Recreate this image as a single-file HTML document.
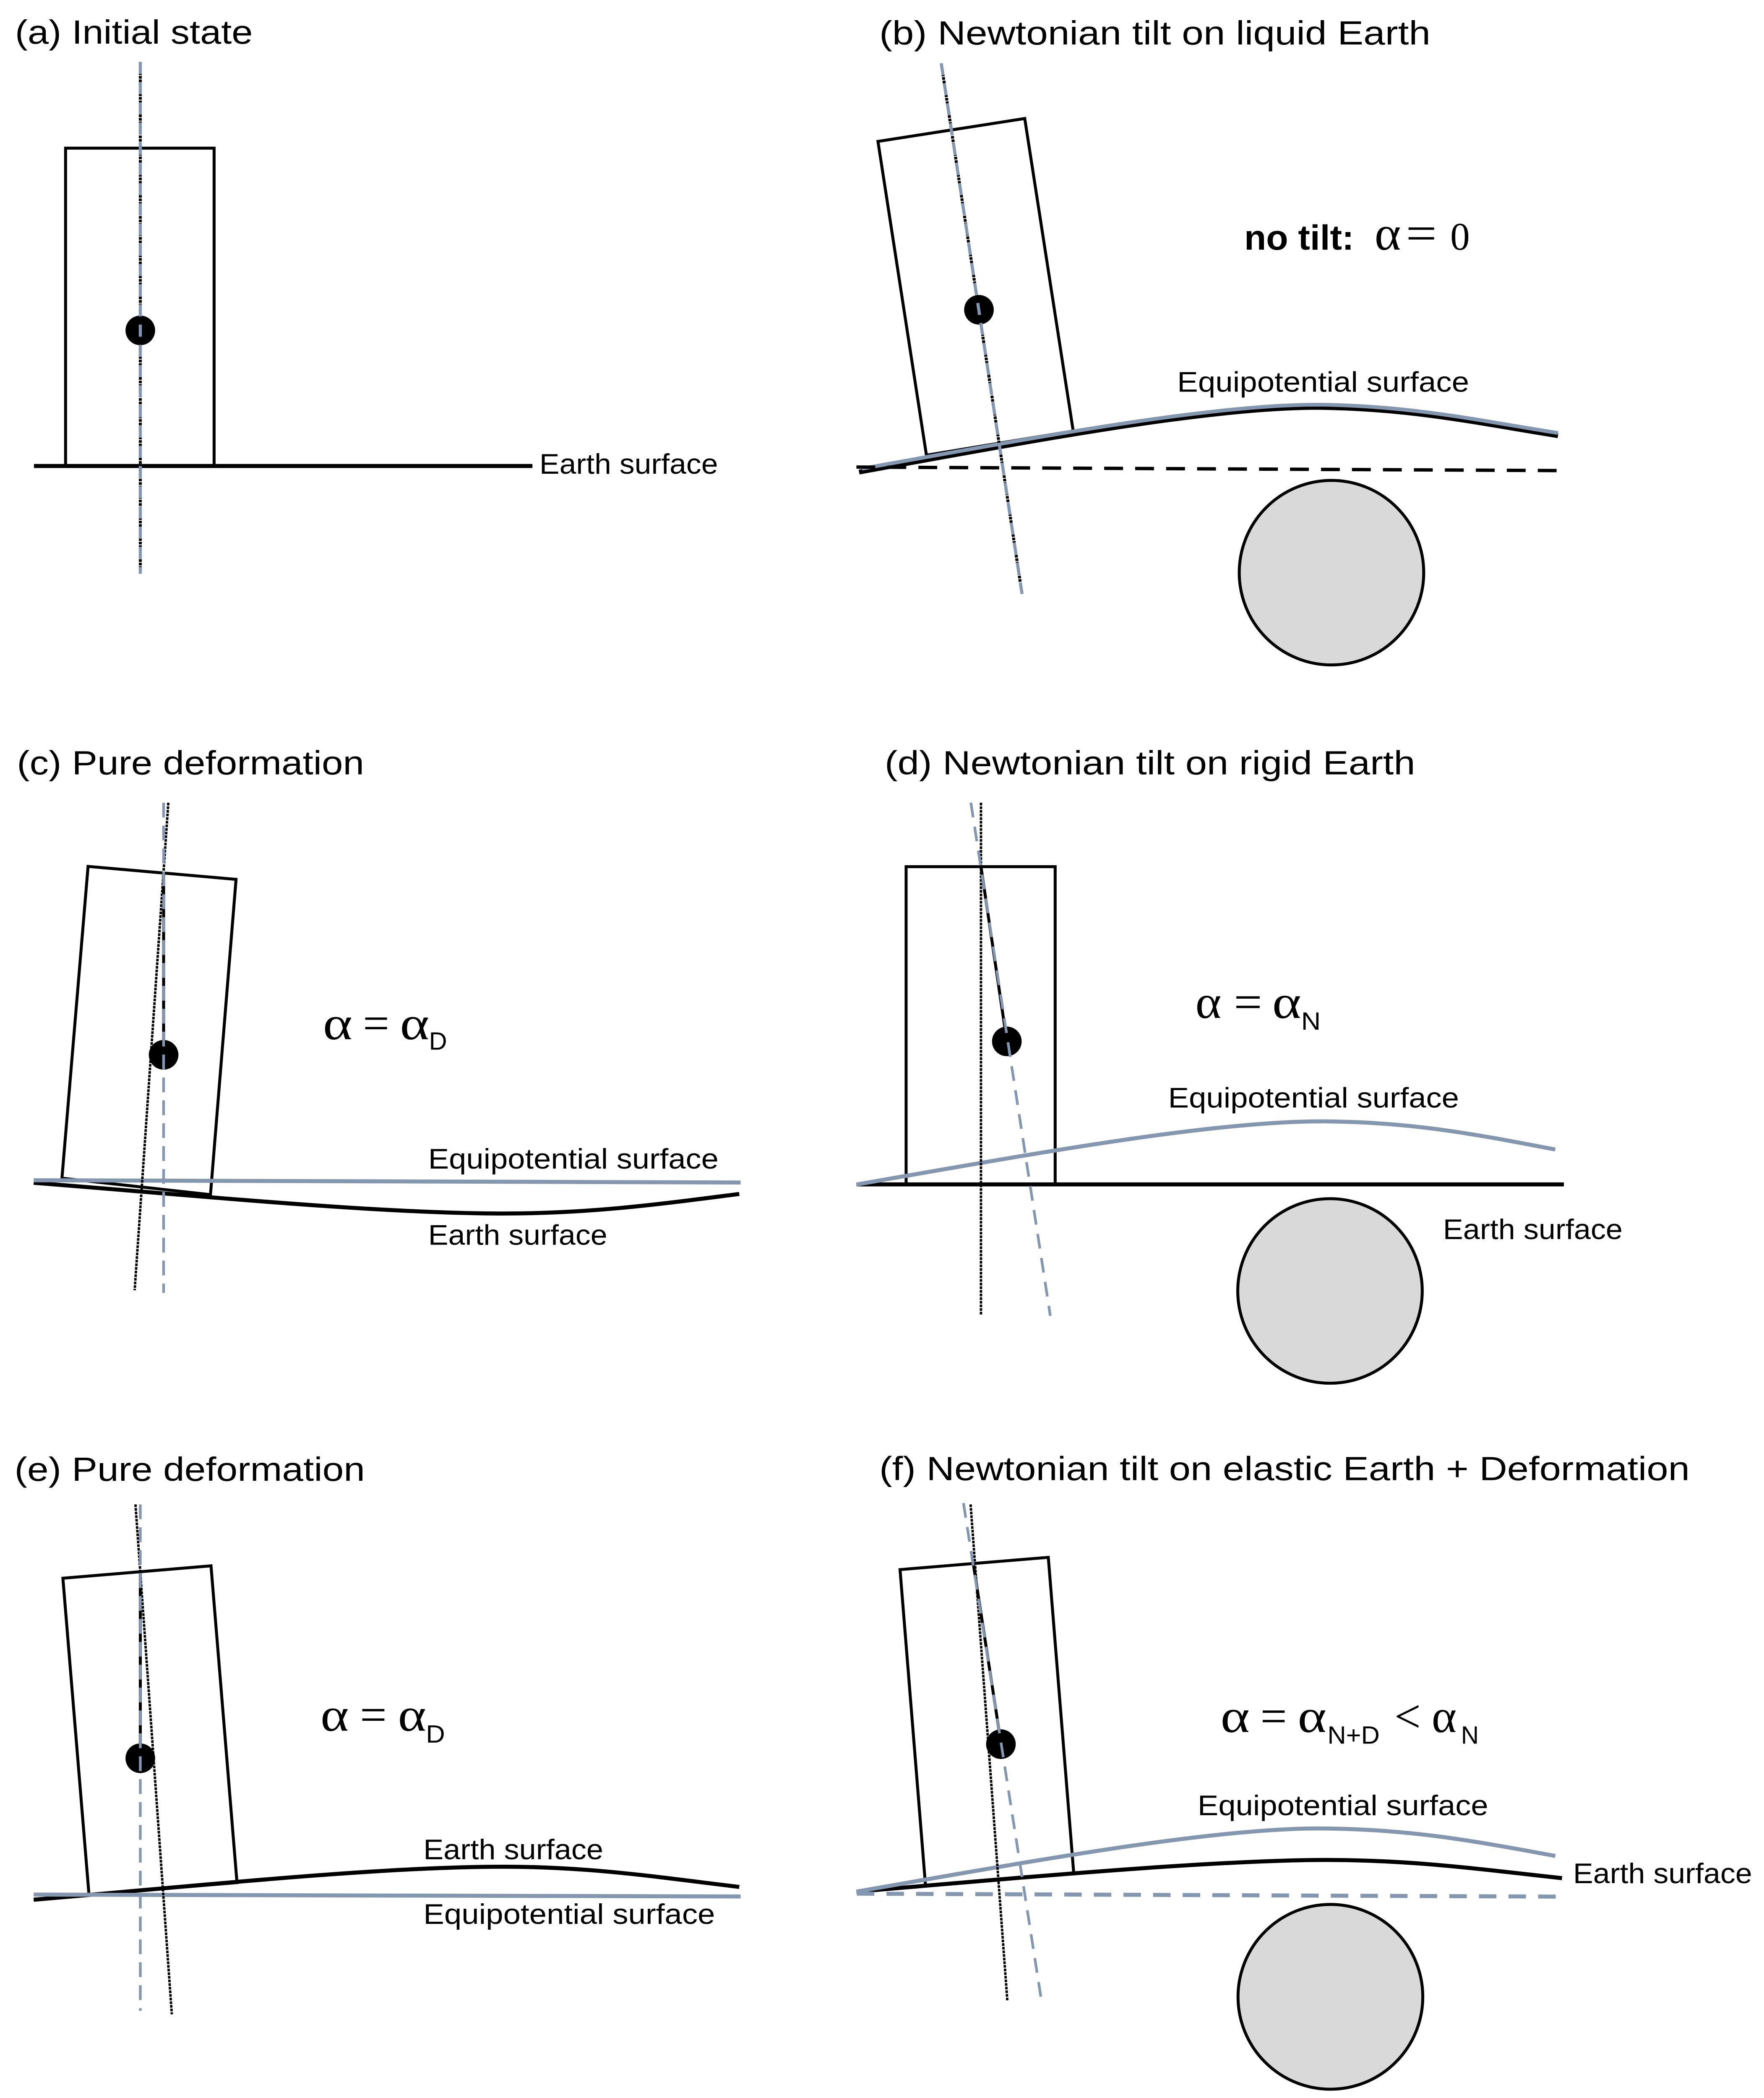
<!DOCTYPE html>
<html>
<head>
<meta charset="utf-8">
<style>
html,body{margin:0;padding:0;background:#fff;width:4205px;height:5015px;overflow:hidden;}
svg{position:fixed;left:0;top:0;display:block;}
</style>
</head>
<body>
<svg xmlns="http://www.w3.org/2000/svg" width="4205" height="5015" viewBox="0 0 1310 1562.4" preserveAspectRatio="none">
<rect x="0" y="0" width="1310" height="1562.4" fill="#ffffff"/>

<!-- ================= TITLES ================= -->
<g font-family="'Liberation Sans', sans-serif" font-size="25" fill="#000">
  <text x="11.2" y="32.4" textLength="176.5" lengthAdjust="spacingAndGlyphs">(a) Initial state</text>
  <text x="653" y="33" textLength="409.3" lengthAdjust="spacingAndGlyphs">(b) Newtonian tilt on liquid Earth</text>
  <text x="12.6" y="575" textLength="257.8" lengthAdjust="spacingAndGlyphs">(c) Pure deformation</text>
  <text x="657" y="575" textLength="394" lengthAdjust="spacingAndGlyphs">(d) Newtonian tilt on rigid Earth</text>
  <text x="10.8" y="1099.4" textLength="260.2" lengthAdjust="spacingAndGlyphs">(e) Pure deformation</text>
  <text x="653" y="1099" textLength="601.8" lengthAdjust="spacingAndGlyphs">(f) Newtonian tilt on elastic Earth + Deformation</text>
</g>

<!-- ================= LABELS ================= -->
<g font-family="'Liberation Sans', sans-serif" font-size="21" fill="#000">
  <text x="400.6" y="351.8" textLength="132.6" lengthAdjust="spacingAndGlyphs">Earth surface</text>
  <text x="874.2" y="290.8" textLength="216.8" lengthAdjust="spacingAndGlyphs">Equipotential surface</text>
  <text x="318" y="867.6" textLength="215.6" lengthAdjust="spacingAndGlyphs">Equipotential surface</text>
  <text x="318" y="924.2" textLength="133" lengthAdjust="spacingAndGlyphs">Earth surface</text>
  <text x="1071.6" y="920" textLength="133.4" lengthAdjust="spacingAndGlyphs">Earth surface</text>
  <text x="867.5" y="822.4" textLength="216" lengthAdjust="spacingAndGlyphs">Equipotential surface</text>
  <text x="314.4" y="1380.4" textLength="133.6" lengthAdjust="spacingAndGlyphs">Earth surface</text>
  <text x="314.4" y="1428.5" textLength="216.6" lengthAdjust="spacingAndGlyphs">Equipotential surface</text>
  <text x="889.4" y="1347.7" textLength="215.8" lengthAdjust="spacingAndGlyphs">Equipotential surface</text>
  <text x="1168.2" y="1398.2" textLength="133" lengthAdjust="spacingAndGlyphs">Earth surface</text>
</g>

<!-- ================= FORMULAS ================= -->
<!-- (b) -->
<text x="924" y="185.3" font-family="'Liberation Sans', sans-serif" font-weight="bold" font-size="26" textLength="81.5" lengthAdjust="spacingAndGlyphs">no tilt:</text>
<g font-family="'Liberation Serif', serif" fill="#000">
  <text x="1020.8" y="185.3" font-size="36" textLength="19.6" lengthAdjust="spacingAndGlyphs">α</text>
  <text x="1044" y="185.3" font-size="36" textLength="23" lengthAdjust="spacingAndGlyphs">=</text>
  <text x="1077" y="185.3" font-size="29">0</text>
</g>

<!-- (c) -->
<g font-family="'Liberation Serif', serif" font-size="35" fill="#000">
  <text x="239.8" y="771.6" textLength="21.9" lengthAdjust="spacingAndGlyphs">α</text>
  <text x="269.5" y="771.6" textLength="19.6" lengthAdjust="spacingAndGlyphs">=</text>
  <text x="297" y="771.6" textLength="21.8" lengthAdjust="spacingAndGlyphs">α</text>
</g>
<text x="318.6" y="779.4" font-family="'Liberation Sans', sans-serif" font-size="18.5" textLength="13.4" lengthAdjust="spacingAndGlyphs">D</text>

<!-- (d) -->
<g font-family="'Liberation Serif', serif" font-size="35" fill="#000">
  <text x="887.7" y="755.8" textLength="19.3" lengthAdjust="spacingAndGlyphs">α</text>
  <text x="916.3" y="755.8" textLength="21" lengthAdjust="spacingAndGlyphs">=</text>
  <text x="944.8" y="755.8" textLength="21.5" lengthAdjust="spacingAndGlyphs">α</text>
</g>
<text x="966.3" y="764.5" font-family="'Liberation Sans', sans-serif" font-size="18.5" textLength="14.5" lengthAdjust="spacingAndGlyphs">N</text>

<!-- (e) -->
<g font-family="'Liberation Serif', serif" font-size="35" fill="#000">
  <text x="238" y="1285" textLength="21" lengthAdjust="spacingAndGlyphs">α</text>
  <text x="267.3" y="1285" textLength="19.9" lengthAdjust="spacingAndGlyphs">=</text>
  <text x="295.5" y="1285" textLength="21" lengthAdjust="spacingAndGlyphs">α</text>
</g>
<text x="316.3" y="1293.8" font-family="'Liberation Sans', sans-serif" font-size="18.5" textLength="14.2" lengthAdjust="spacingAndGlyphs">D</text>

<!-- (f) -->
<g font-family="'Liberation Serif', serif" font-size="35" fill="#000">
  <text x="906.4" y="1286" textLength="21.7" lengthAdjust="spacingAndGlyphs">α</text>
  <text x="936" y="1286" textLength="19.7" lengthAdjust="spacingAndGlyphs">=</text>
  <text x="963.7" y="1286" textLength="21.4" lengthAdjust="spacingAndGlyphs">α</text>
  <text x="1035.5" y="1286" textLength="19.6" lengthAdjust="spacingAndGlyphs">&lt;</text>
  <text x="1063.2" y="1286" textLength="18.5" lengthAdjust="spacingAndGlyphs">α</text>
</g>
<text x="985.8" y="1294.7" font-family="'Liberation Sans', sans-serif" font-size="18.5" textLength="38.8" lengthAdjust="spacingAndGlyphs">N+D</text>
<text x="1085" y="1294.7" font-family="'Liberation Sans', sans-serif" font-size="18.5" textLength="13.2" lengthAdjust="spacingAndGlyphs">N</text>

<!-- ================= PANEL (a) ================= -->
<g fill="none" stroke="#000">
  <rect x="48.7" y="110" width="110.3" height="236" stroke-width="2.2"/>
  <line x1="25.2" y1="346" x2="395.4" y2="346" stroke-width="3"/>
  <line x1="104.2" y1="46" x2="104.2" y2="426" stroke-width="2.2" stroke-dasharray="2 0.6"/>
</g>
<circle cx="104.2" cy="245.3" r="11" fill="#000"/>
<line x1="104.2" y1="46" x2="104.2" y2="426" stroke="#8497B0" stroke-width="2.3" stroke-dasharray="9 6"/>

<!-- ================= PANEL (b) ================= -->
<polygon points="652,105 761,88 797,320 688,338" fill="none" stroke="#000" stroke-width="2.2"/>
<path d="M638 350.5 C760 328.5 900 301.5 982 302.5 C1050 303.5 1100 314.5 1157 323.5" fill="none" stroke="#000" stroke-width="3.6"/>
<path d="M640 348 C760 326.5 900 299.5 982 300.5 C1050 301.5 1100 312.5 1157 321.5" fill="none" stroke="#8497B0" stroke-width="2.8"/>
<line x1="636" y1="346.8" x2="1157.5" y2="349.4" stroke="#000" stroke-width="2.5" stroke-dasharray="14 9"/>
<circle cx="988.8" cy="425.2" r="68.5" fill="#d9d9d9" stroke="#000" stroke-width="2.2"/>
<line x1="699" y1="47" x2="759" y2="441" stroke="#000" stroke-width="2.2" stroke-dasharray="2 0.6"/>
<circle cx="727" cy="230" r="11" fill="#000"/>
<line x1="699" y1="47" x2="759" y2="441" stroke="#8497B0" stroke-width="2.3" stroke-dasharray="9 6"/>

<!-- ================= PANEL (c) ================= -->
<polygon points="65.4,643.3 175.3,652.9 156.3,887 46,874.8" fill="none" stroke="#000" stroke-width="2.2"/>
<path d="M25 878.2 C150 888 280 901 374 901 C440 901 490 894 549 886.5" fill="none" stroke="#000" stroke-width="3"/>
<line x1="25" y1="876.3" x2="550" y2="878" stroke="#8497B0" stroke-width="3"/>
<line x1="125" y1="596" x2="100" y2="958" stroke="#000" stroke-width="1.8" stroke-dasharray="2 0.7"/>
<line x1="121.5" y1="648.2" x2="121.5" y2="783" stroke="#000" stroke-width="2.2"/>
<circle cx="121.5" cy="783.2" r="11" fill="#000"/>
<line x1="121.5" y1="596" x2="121.5" y2="960" stroke="#8497B0" stroke-width="2" stroke-dasharray="11 6"/>

<!-- ================= PANEL (d) ================= -->
<rect x="672.9" y="643.5" width="110.7" height="235.9" fill="none" stroke="#000" stroke-width="2.2"/>
<line x1="636" y1="879.4" x2="1161.4" y2="879.4" stroke="#000" stroke-width="3"/>
<path d="M636 879.5 C760 858 900 832 984 832.6 C1050 833 1100 843 1155 853.5" fill="none" stroke="#8497B0" stroke-width="3"/>
<line x1="728.5" y1="596" x2="728.5" y2="976" stroke="#000" stroke-width="1.8" stroke-dasharray="2 0.7"/>
<line x1="728.5" y1="643.5" x2="747.7" y2="773" stroke="#000" stroke-width="2.2"/>
<circle cx="747.7" cy="773.2" r="11" fill="#000"/>
<line x1="721" y1="596" x2="780" y2="977" stroke="#8497B0" stroke-width="2" stroke-dasharray="11 7"/>
<circle cx="987.7" cy="958.5" r="68.5" fill="#d9d9d9" stroke="#000" stroke-width="2.2"/>

<!-- ================= PANEL (e) ================= -->
<polygon points="46.7,1171.8 156.7,1162.6 176,1397.8 66.1,1407" fill="none" stroke="#000" stroke-width="2.2"/>
<path d="M25 1410.5 C150 1400 280 1386 374 1386 C440 1386 490 1394 549 1401" fill="none" stroke="#000" stroke-width="3"/>
<line x1="25" y1="1406.7" x2="550" y2="1408.1" stroke="#8497B0" stroke-width="3"/>
<line x1="100.6" y1="1117" x2="127.6" y2="1495.6" stroke="#000" stroke-width="1.8" stroke-dasharray="2 0.7"/>
<line x1="104.2" y1="1167" x2="104.2" y2="1305.5" stroke="#000" stroke-width="2.2"/>
<circle cx="104.2" cy="1305.5" r="11" fill="#000"/>
<line x1="104.2" y1="1117" x2="104.2" y2="1493" stroke="#8497B0" stroke-width="2" stroke-dasharray="11 6"/>

<!-- ================= PANEL (f) ================= -->
<polygon points="668.4,1165.4 778.5,1156.3 797.4,1391 687.3,1399.8" fill="none" stroke="#000" stroke-width="2.2"/>
<path d="M636 1404.5 C760 1394 900 1381 986 1381 C1050 1381 1100 1388 1160 1394.5" fill="none" stroke="#000" stroke-width="3"/>
<path d="M636 1404.5 C760 1383 900 1357 982 1357.6 C1050 1358 1100 1368 1155 1378" fill="none" stroke="#8497B0" stroke-width="3"/>
<line x1="636.3" y1="1406" x2="1157" y2="1408.2" stroke="#8497B0" stroke-width="3" stroke-dasharray="13 9"/>
<line x1="720.8" y1="1117" x2="748.1" y2="1485.7" stroke="#000" stroke-width="1.8" stroke-dasharray="2 0.7"/>
<line x1="722.8" y1="1161" x2="743.5" y2="1295" stroke="#000" stroke-width="2.2"/>
<circle cx="743.3" cy="1295" r="11" fill="#000"/>
<line x1="715.5" y1="1116" x2="773.6" y2="1486.6" stroke="#8497B0" stroke-width="2" stroke-dasharray="11 7"/>
<circle cx="988" cy="1482.6" r="68.6" fill="#d9d9d9" stroke="#000" stroke-width="2.2"/>

</svg>
</body>
</html>
